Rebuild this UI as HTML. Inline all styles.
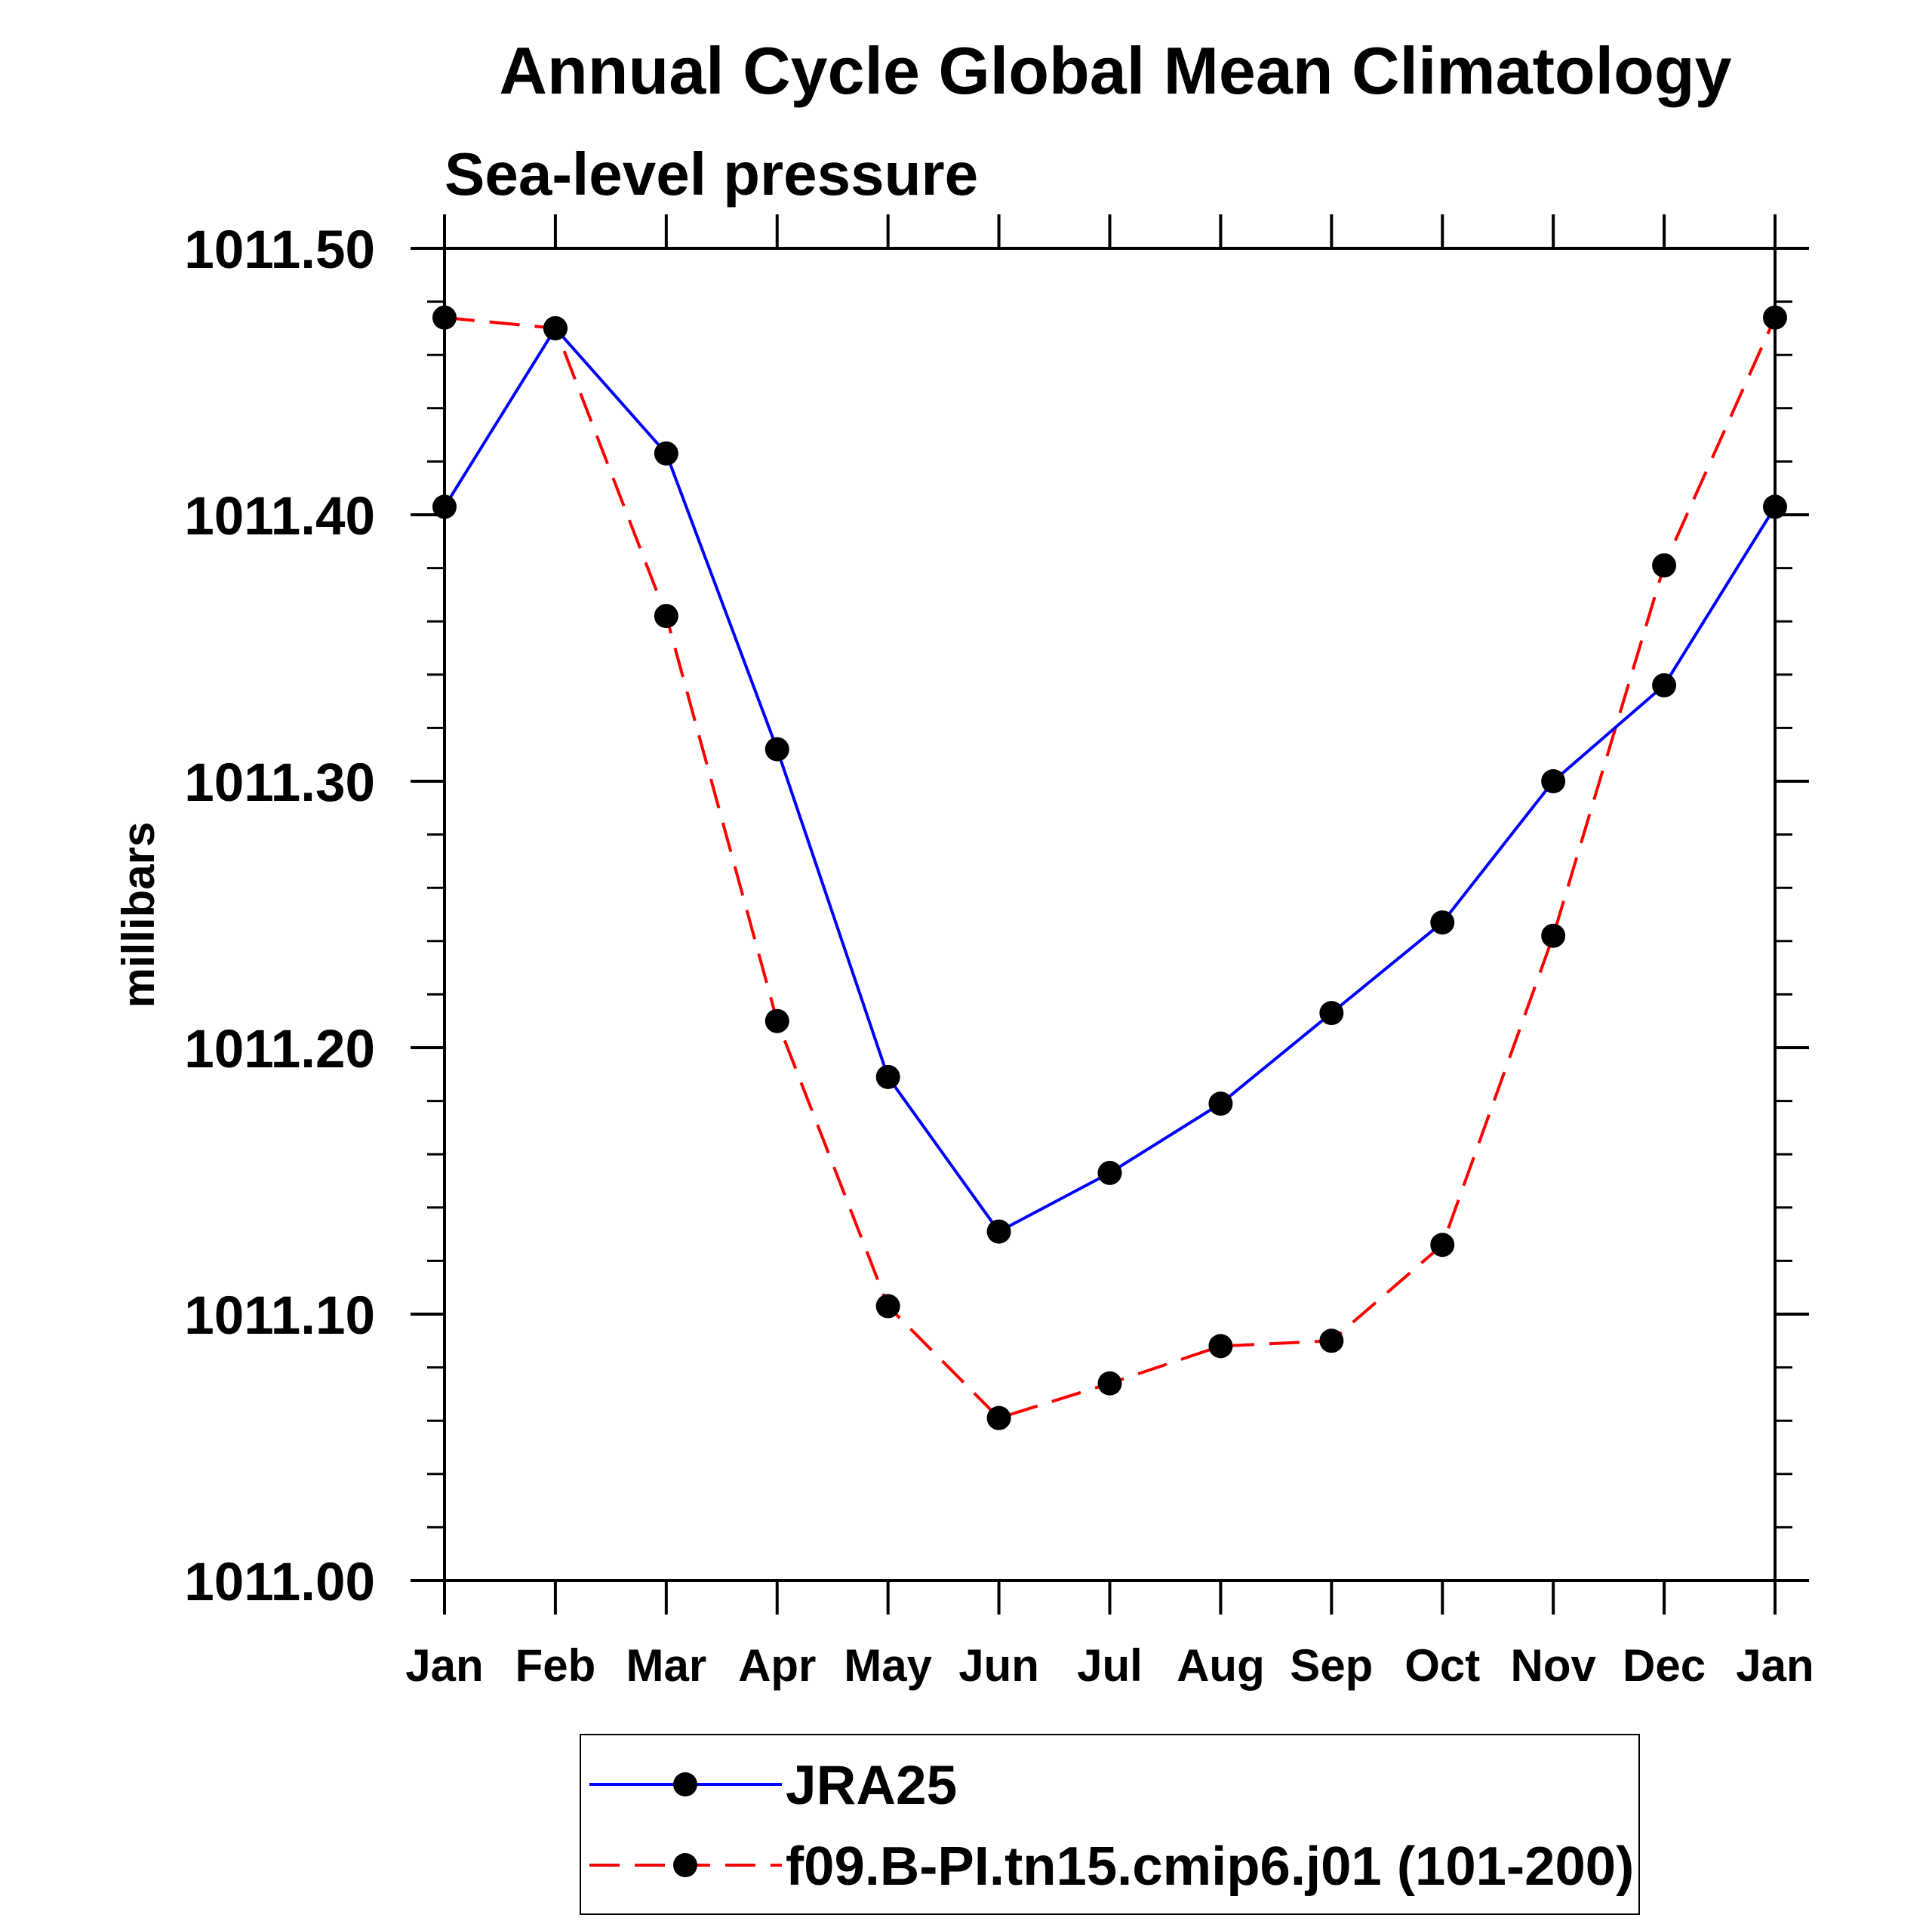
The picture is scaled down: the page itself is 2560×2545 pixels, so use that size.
<!DOCTYPE html>
<html><head><meta charset="utf-8"><style>
html,body{margin:0;padding:0;background:#fff;}
svg text{font-family:"Liberation Sans",Arial,sans-serif;font-weight:bold;fill:#000;}
</style></head><body>
<svg id="chart" width="2560" height="2540" viewBox="0 0 2560 2540" xmlns="http://www.w3.org/2000/svg">
<text x="1478" y="124" font-size="88" text-anchor="middle">Annual Cycle Global Mean Climatology</text>
<text x="589" y="258" font-size="80">Sea-level pressure</text>
<text transform="translate(204,1212) rotate(-90)" font-size="60" text-anchor="middle">millibars</text>
<g id="ticks"></g>
<g id="series"></g>
<rect x="589" y="329" width="1763" height="1765" fill="none" stroke="#000" stroke-width="4"/>
<g>
<rect x="769" y="2298" width="1403" height="238" fill="none" stroke="#000" stroke-width="2"/>
<line x1="781" y1="2364" x2="1036" y2="2364" stroke="#0000ff" stroke-width="4"/>
<circle cx="908" cy="2364" r="16" fill="#000"/>
<text x="1041" y="2390" font-size="73">JRA25</text>
<line x1="781" y1="2471" x2="1036" y2="2471" stroke="#ff0000" stroke-width="4" stroke-dasharray="40 20"/>
<circle cx="908" cy="2471" r="16" fill="#000"/>
<text x="1041" y="2497" font-size="72.5">f09.B-PI.tn15.cmip6.j01 (101-200)</text>
</g>
</svg>
<script>
const months = ["Jan","Feb","Mar","Apr","May","Jun","Jul","Aug","Sep","Oct","Nov","Dec","Jan"];
const jra25 = [1011.403,1011.470,1011.423,1011.312,1011.189,1011.131,1011.153,1011.179,1011.213,1011.247,1011.300,1011.336,1011.403];
const model = [1011.474,1011.470,1011.362,1011.210,1011.103,1011.061,1011.074,1011.088,1011.090,1011.126,1011.242,1011.381,1011.474];
const yTicks = [1011.00,1011.10,1011.20,1011.30,1011.40,1011.50];
const yTickLabels = ["1011.00","1011.10","1011.20","1011.30","1011.40","1011.50"];

const NS = "http://www.w3.org/2000/svg";
const X0 = 589, X1 = 2352, Y0 = 329, Y1 = 2094, YMIN = 1011.0, YMAX = 1011.5;
function xs(i){ return X0 + i*(X1-X0)/(months.length-1); }
function ys(v){ return Y1 - (v-YMIN)/(YMAX-YMIN)*(Y1-Y0); }
function mk(tag, attrs, parent){ const e=document.createElementNS(NS,tag); for(const k in attrs) e.setAttribute(k,attrs[k]); parent.appendChild(e); return e; }

const tg = document.getElementById('ticks');
for (let k=0;k<yTicks.length;k++){
  const y = ys(yTicks[k]);
  let l = mk('line',{x1:X0-45,y1:y,x2:X0,y2:y,stroke:'#000','stroke-width':4},tg);
  
  
  l = mk('line',{x1:X1,y1:y,x2:X1+45,y2:y,stroke:'#000','stroke-width':4},tg);
  
  
  const t = mk('text',{x:X0-92,y:y+26,'font-size':71,'text-anchor':'end'},tg);
  t.textContent = yTickLabels[k];
  
  
  if (k<yTicks.length-1){
    for (let m=1;m<5;m++){
      const ym = ys(yTicks[k] + m*(yTicks[k+1]-yTicks[k])/5);
      let a = mk('line',{x1:X0-23,y1:ym,x2:X0,y2:ym,stroke:'#000','stroke-width':3},tg);
      
      
      a = mk('line',{x1:X1,y1:ym,x2:X1+23,y2:ym,stroke:'#000','stroke-width':3},tg);
      
      
    }
  }
}
for (let i=0;i<months.length;i++){
  const x = xs(i);
  let l = mk('line',{x1:x,y1:Y1,x2:x,y2:Y1+45,stroke:'#000','stroke-width':4},tg);
  
  
  l = mk('line',{x1:x,y1:Y0-45,x2:x,y2:Y0,stroke:'#000','stroke-width':4},tg);
  
  
  const t = mk('text',{x:x,y:2227,'font-size':60,'text-anchor':'middle'},tg);
  t.textContent = months[i];
  
  
}
const sg = document.getElementById('series');
function drawSeries(vals,color,dash,name){
  const pts = vals.map((v,i)=>xs(i)+','+ys(v)).join(' ');
  const attrs = {points:pts,fill:'none',stroke:color,'stroke-width':4};
  if (dash) attrs['stroke-dasharray']=dash;
  const pl = mk('polyline',attrs,sg);
  
  
  vals.forEach((v,i)=>{
    const c = mk('circle',{cx:xs(i),cy:ys(v),r:16,fill:'#000'},sg);
    
    
  });
}
drawSeries(model,'#ff0000','40 20','model');
drawSeries(jra25,'#0000ff',null,'jra25');
</script>
</body></html>
